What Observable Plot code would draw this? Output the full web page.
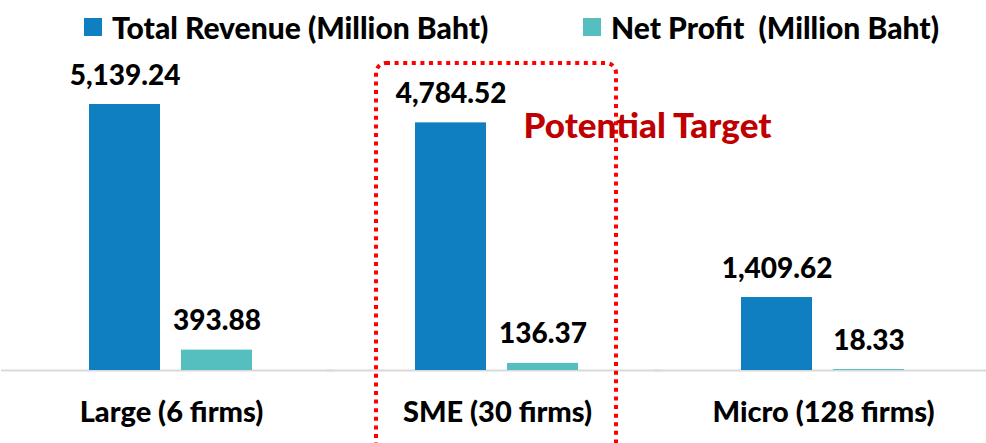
<!DOCTYPE html>
<html>
<head>
<meta charset="utf-8">
<script src="https://cdn.jsdelivr.net/npm/d3@7"></script>
<script src="https://cdn.jsdelivr.net/npm/@observablehq/plot@0.6"></script>
<style>
  html, body { margin: 0; padding: 0; background: #fff; overflow: hidden; }
  body { font-family: Lato, "Open Sans", sans-serif; width: 986px; height: 443px; }
  #legend { position: relative; height: 50px; width: 986px; }
  .item { position: absolute; top: 11px; display: flex; align-items: center; height: 32px;
          font-weight: 900; font-size: 30px; color: #000; white-space: pre; }
  .sw { width: 18px; height: 18px; margin-right: 10px; display: inline-block; }
  #chart svg { overflow: hidden; }
</style>
</head>
<body>
<div id="legend"></div>
<div id="chart"></div>
<script>
const categories = ["Large (6 firms)", "SME (30 firms)", "Micro (128 firms)"];
const series = ["Total Revenue (Million Baht)", "Net Profit  (Million Baht)"];
const revenue = [5139.24, 4784.52, 1409.62];
const netProfit = [393.88, 136.37, 18.33];
const colors = ["#0F7FC1", "#55BFC0"];
const highlight = "SME (30 firms)";
const annotation = "Potential Target";

const data = [];
categories.forEach((c, i) => {
  data.push({category: c, series: series[0], value: revenue[i]});
  data.push({category: c, series: series[1], value: netProfit[i]});
});

// legend
const legend = document.getElementById("legend");
const legendX = [84, 583];
series.forEach((s, i) => {
  const it = document.createElement("div");
  it.className = "item";
  it.style.left = legendX[i] + "px";
  const sw = document.createElement("span");
  sw.className = "sw";
  sw.style.background = colors[i];
  it.appendChild(sw);
  it.appendChild(document.createTextNode(s));
  legend.appendChild(it);
});

const fmt = d3.format(",.2f");
const yMax = d3.max(revenue);

const chart = Plot.plot({
  width: 986,
  height: 393,
  marginLeft: 7,
  marginRight: 0,
  marginTop: 54,
  marginBottom: 73,
  style: {fontFamily: "Lato, 'Open Sans', sans-serif", background: "#fff", overflow: "hidden"},
  fx: {domain: categories, padding: 0, label: null},
  x: {domain: series, paddingInner: 0.226, paddingOuter: 0.866, axis: null},
  y: {domain: [0, yMax], axis: null},
  color: {domain: series, range: colors},
  marks: [
    Plot.ruleY([0], {stroke: "#D9D9D9", strokeWidth: 2, insetLeft: -7}),
    Plot.barY(data, {fx: "category", x: "series", y: "value", fill: "series"}),
    Plot.text(data, {
      fx: "category", x: "series", y: "value", text: d => fmt(d.value),
      lineAnchor: "bottom", dy: -20, fontSize: 28, fontWeight: 900, fill: "#000"
    }),
    Plot.barY([{category: highlight}], {
      fx: "category", y1: -2500, y2: yMax * 1.154,
      insetLeft: 42, insetRight: 44, rx: 10,
      fill: "none", stroke: "#FF0000", strokeWidth: 4, strokeDasharray: "4 4.6"
    }),
    Plot.text([{category: highlight, label: annotation}], {
      fx: "category", text: "label", frameAnchor: "top", lineAnchor: "bottom",
      dx: 150, dy: 33, fontSize: 35, fontWeight: 900, fill: "#C00000"
    }),
    Plot.axisFx({
      anchor: "bottom", tickSize: 0, tickPadding: 31, fontSize: 29, fontWeight: 900, label: null, color: "#000"
    })
  ]
});
document.getElementById("chart").appendChild(chart);
</script>
</body>
</html>
